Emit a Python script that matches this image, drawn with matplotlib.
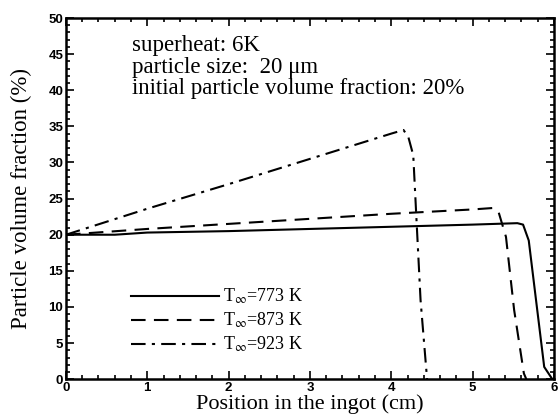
import matplotlib
matplotlib.use("Agg")
import matplotlib.pyplot as plt
from matplotlib.ticker import MultipleLocator

plt.rcParams["mathtext.fontset"] = "stix"

# T = 773 K
x_773 = [0.0, 0.6, 1.0, 2.0, 3.0, 4.0, 5.0, 5.55, 5.62, 5.69, 5.78, 5.88, 5.98]
y_773 = [20.0, 20.0, 20.3, 20.5, 20.8, 21.1, 21.4, 21.6, 21.4, 19.2, 10.9, 1.7, 0.0]
# T = 873 K
x_873 = [0.0, 0.5, 1.0, 2.0, 3.0, 4.0, 5.0, 5.25, 5.32, 5.41, 5.51, 5.63, 5.66]
y_873 = [20.0, 20.4, 20.8, 21.5, 22.2, 22.9, 23.5, 23.7, 23.1, 19.7, 9.6, 0.8, 0.0]
# T = 923 K
x_923 = [0.0, 1.0, 2.0, 3.0, 4.0, 4.15, 4.21, 4.27, 4.31, 4.36, 4.44]
y_923 = [20.0, 23.6, 27.0, 30.5, 34.0, 34.5, 33.5, 31.0, 22.0, 10.9, 0.0]

labels = [r"T$_{\infty}$=773 K", r"T$_{\infty}$=873 K", r"T$_{\infty}$=923 K"]
notes = ["superheat: 6K", "particle size:  20 μm", "initial particle volume fraction: 20%"]

fig = plt.figure(figsize=(5.59, 4.19), dpi=100)
ax = fig.add_axes([0.118, 0.095, 0.873, 0.862])

ax.plot(x_773, y_773, color="black", lw=1.5, ls="-", label=labels[0])
ax.plot(x_873, y_873, color="black", lw=1.5, ls=(0, (7, 4)), label=labels[1])
ax.plot(x_923, y_923, color="black", lw=1.5, ls=(0, (7, 3, 1.5, 3)), label=labels[2])

ax.set_xlim(0, 6)
ax.set_ylim(0, 50)
ax.xaxis.set_major_locator(MultipleLocator(1))
ax.xaxis.set_minor_locator(MultipleLocator(0.2))
ax.yaxis.set_major_locator(MultipleLocator(5))
ax.yaxis.set_minor_locator(MultipleLocator(1))
ax.tick_params(which="both", direction="in", top=True, right=True, width=1.2)
ax.tick_params(which="major", length=6, pad=2)
ax.tick_params(which="minor", length=3)
for lab in ax.get_xticklabels() + ax.get_yticklabels():
    lab.set_fontfamily("Liberation Sans")
    lab.set_fontweight("bold")
    lab.set_fontsize(9.5)
for s in ax.spines.values():
    s.set_linewidth(1.8)

ax.set_xlabel("Position in the ingot (cm)", family="Liberation Serif", fontsize=16, labelpad=0)
ax.set_ylabel("Particle volume fraction (%)", family="Liberation Serif", fontsize=16.5, labelpad=12)

for i, note in enumerate(notes):
    ax.text(0.81, 45.4 - 2.95 * i, note, family="Liberation Serif", fontsize=16.5, va="baseline")

leg = ax.legend(loc="lower left", bbox_to_anchor=(0.10, 0.024), frameon=False,
                prop={"family": "Liberation Serif", "size": 13}, handlelength=4.9,
                labelspacing=0.25, handletextpad=0.2)

fig.savefig("out.png", dpi=100)
